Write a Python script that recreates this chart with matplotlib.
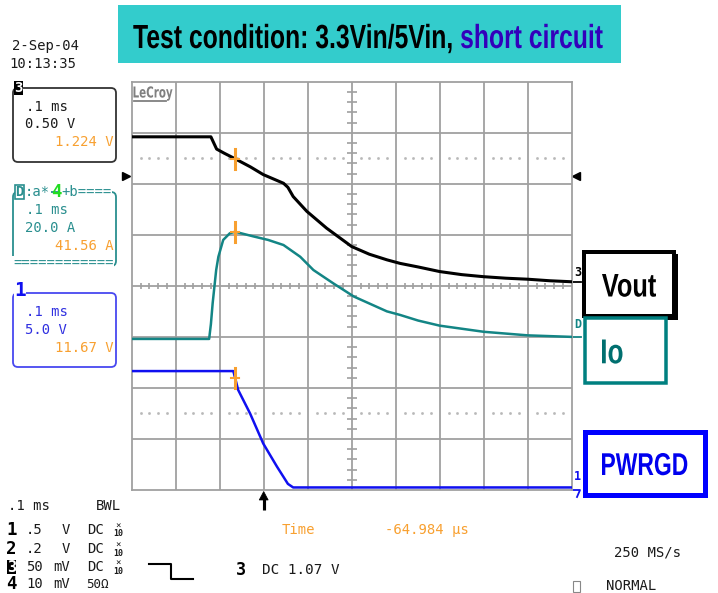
import numpy as np
import matplotlib
matplotlib.use('Agg')
import matplotlib.pyplot as plt
from matplotlib.patches import Rectangle, FancyBboxPatch, PathPatch, Polygon
from matplotlib.textpath import TextPath
from matplotlib.font_manager import FontProperties, findfont
from matplotlib.transforms import Affine2D

# ---------------- data (time in 0.1 ms divisions, amplitude in divisions) ----------------
vout_t = [0.0, 1.80, 1.93, 2.10, 2.35, 2.70, 2.99, 3.45, 3.55, 3.67, 3.98, 4.43, 5.00,
          5.40, 5.80, 6.10, 6.51, 7.00, 7.50, 7.99, 8.50, 9.00, 9.50, 10.0]
vout_y = [2.92, 2.92, 2.68, 2.60, 2.49, 2.33, 2.18, 2.01, 1.93, 1.75, 1.46, 1.13, 0.77,
          0.62, 0.51, 0.44, 0.37, 0.28, 0.22, 0.18, 0.15, 0.13, 0.10, 0.08]

io_t = [0.0, 1.76, 1.80, 1.84, 1.92, 1.97, 2.08, 2.23, 2.35, 2.76, 3.10, 3.45, 3.83,
        4.13, 4.58, 5.05, 5.80, 6.10, 6.51, 7.00, 8.00, 9.00, 10.0]
io_y = [-1.04, -1.04, -0.75, -0.34, 0.31, 0.57, 0.90, 1.03, 1.06, 0.97, 0.90, 0.80, 0.57,
        0.31, 0.05, -0.21, -0.50, -0.57, -0.68, -0.78, -0.90, -0.97, -1.00]

pg_t = [0.0, 2.31, 2.42, 2.69, 2.99, 3.30, 3.55, 3.67, 10.0]
pg_y = [-1.67, -1.67, -2.04, -2.50, -3.09, -3.54, -3.88, -3.95, -3.95]

cursor_t = 2.35
trigger_t = 3.0

title_black = 'Test condition: 3.3Vin/5Vin, '
title_blue = 'short circuit'
trace_labels = ['Vout', 'Io', 'PWRGD']

date_text = '2-Sep-04'
clock_text = '10:13:35'
panel_time = ['.1 ms', '.1 ms', '.1 ms']
panel_scale = ['0.50 V', '20.0 A', '5.0 V']
panel_value = ['1.224 V', '41.56 A', '11.67 V']

ch_ids = ['1', '2', '3', '4']
ch_scale = ['.5', '.2', '50', '10']
ch_unit = ['V', 'V', 'mV', 'mV']
ch_coupling = ['DC', 'DC', 'DC', '50Ω']
timebase = '.1 ms'
cursor_readout = '-64.984 μs'
trigger_readout = 'DC 1.07 V'
sample_rate = '250 MS/s'
trig_mode = 'NORMAL'

# ---------------- colours ----------------
C_BLACK = '#000000'
C_TEAL = '#138585'
C_TEAL_TXT = '#2A8F8F'
C_BLUE = '#1010F0'
C_BLUE_TXT = '#3030E0'
C_ORANGE = '#F8A030'
C_GRID = '#A0A0A0'
C_TXT = '#1a1a1a'
C_CYAN = '#33CCCC'
C_TITLE_BLUE = '#3300BB'

W, H = 718, 593
fig = plt.figure(figsize=(W / 100, H / 100), dpi=100)
ax0 = fig.add_axes([0, 0, 1, 1])
ax0.set_xlim(0, W)
ax0.set_ylim(H, 0)
ax0.axis('off')

PX = 0.72  # points per pixel

try:
    findfont(FontProperties(family='Liberation Sans Narrow'), fallback_to_default=False)
    fam = 'Liberation Sans Narrow'
except Exception:
    fam = 'Liberation Sans'
fp_bold = FontProperties(family=fam, weight='bold')


def fit_path(ax, s, x0, x1, cap_top, baseline, color, fp, ref=None):
    """Draw text as a path scaled to an ink box (pixel coords)."""
    full = ref if ref is not None else s
    cap = TextPath((0, 0), 'H', size=100, prop=fp).get_extents().height
    pf = TextPath((0, 0), full, size=100, prop=fp)
    ef = pf.get_extents()
    sx = (x1 - x0) / ef.width
    sy = (baseline - cap_top) / cap
    p = TextPath((0, 0), s, size=100, prop=fp)
    off = 0.0
    if ref is not None and not full.startswith(s):
        off = ef.x1 - p.get_extents().x1
    tr = Affine2D().translate(off - ef.x0, 0).scale(sx, -sy).translate(x0, baseline)
    ax.add_patch(PathPatch(tr.transform_path(p), fc=color, ec='none', lw=0, zorder=6))


def mono(x, y, s, color=C_TXT, size=10, ha='left', weight='normal', **kw):
    ax0.text(x, y, s, fontsize=size, family='DejaVu Sans Mono', color=color,
             ha=ha, va='center', weight=weight, **kw)


# ---------------- title ----------------
ax0.add_patch(Rectangle((118, 5), 503, 58, fc=C_CYAN, ec='none', zorder=1))
full_title = title_black + title_blue
fit_path(ax0, title_black, 133.3, 602.7, 25, 48, C_BLACK, fp_bold, ref=full_title)
fit_path(ax0, title_blue, 133.3, 602.7, 25, 48, C_TITLE_BLUE, fp_bold, ref=full_title)

# ---------------- scope axes ----------------
L, R, T, B = 131.7, 571.7, 81.7, 490.0
ax = fig.add_axes([L / W, 1 - B / H, (R - L) / W, (B - T) / H])
ax.set_xlim(0, 10)
ax.set_ylim(-4, 4)
ax.set_facecolor('none')
ax.set_xticks([])
ax.set_yticks([])
for sp in ax.spines.values():
    sp.set_color(C_GRID)
    sp.set_linewidth(1.3)
for xv in range(1, 10):
    ax.axvline(xv, color=C_GRID, lw=1.3, zorder=1)
for yv in range(-3, 4):
    ax.axhline(yv, color=C_GRID, lw=1.3, zorder=1)
minor_x = [v for v in np.arange(0.2, 10, 0.2) if abs(v - round(v)) > 1e-6]
minor_y = [v for v in np.arange(-3.8, 4, 0.2) if abs(v - round(v)) > 1e-6]
ax.vlines(minor_x, -0.065, 0.065, color=C_GRID, lw=1.2, zorder=1)
ax.hlines(minor_y, 4.885, 5.115, color=C_GRID, lw=1.2, zorder=1)
for yd in (2.5, -2.5):
    ax.plot(minor_x, [yd] * len(minor_x), ls='none', marker='s', ms=0.9,
            color='#B8B8B8', zorder=1)

# traces
ax.plot(vout_t, vout_y, color=C_BLACK, lw=2.2, zorder=4, solid_joinstyle='round')
ax.plot(io_t, io_y, color=C_TEAL, lw=1.8, zorder=4, solid_joinstyle='round')
ax.plot(pg_t, pg_y, color=C_BLUE, lw=1.8, zorder=4, solid_joinstyle='round')

# cursor markers
for tt, yy in ((vout_t, vout_y), (io_t, io_y), (pg_t, pg_y)):
    yc = np.interp(cursor_t, tt, yy)
    ax.plot([cursor_t, cursor_t], [yc - 0.2, yc + 0.2], color=C_ORANGE, lw=2.2, zorder=5)
    ax.plot([cursor_t - 0.09, cursor_t + 0.09], [yc, yc], color=C_ORANGE, lw=1.5, zorder=5)

# LeCroy logo
fp_logo = FontProperties(family='DejaVu Sans', weight='bold')
fit_path(ax0, 'LeCroy', 133.5, 172.5, 86.5, 97.5, '#808080', fp_logo)
ax0.plot([133.5, 166], [100.8, 100.8], color='#808080', lw=1.3, zorder=6)

# side markers
ax0.plot([125.5], [176], marker='>', color='k', ms=5.5, zorder=7)
ax0.plot([576], [176], marker='<', color='k', ms=5.5, zorder=7)

# trigger position arrow below the grid
xa = L + trigger_t * (R - L) / 10
ax0.plot([xa, xa], [497, 510], color='k', lw=2.6 * PX * 1.2, solid_capstyle='butt')
ax0.add_patch(Polygon([[xa - 4.5, 500], [xa + 4.5, 500], [xa, 491.5]], closed=True,
                      fc='k', ec='k', lw=0.5))

# right-edge channel tags
mono(578, 273, '3', color='k', size=8.5, ha='center', weight='bold')
ax0.plot([572, 581], [282, 282], color='k', lw=1.3)
mono(578, 325, 'D', color=C_TEAL, size=8.5, ha='center', weight='bold')
ax0.plot([572, 581], [336.5, 336.5], color=C_TEAL, lw=1.3)
mono(577, 477, '1', color=C_BLUE, size=8.5, ha='center', weight='bold')
ax0.plot([572, 580, 577], [490, 490, 497], color=C_BLUE, lw=1.3)

# ---------------- label boxes on the right ----------------
ax0.add_patch(Rectangle((586, 254), 92, 66, fc='k', ec='none', zorder=2))
ax0.add_patch(Rectangle((584, 252), 90, 64, fc='white', ec='k', lw=4 * PX, zorder=3))
fit_path(ax0, trace_labels[0], 602, 656, 274, 296.5, C_BLACK, fp_bold)
ax0.add_patch(Rectangle((584.5, 317.5), 81, 65, fc='white', ec='#008080', lw=3.5 * PX, zorder=4))
fit_path(ax0, trace_labels[1], 602, 622.5, 339.5, 363.3, '#006F6F', fp_bold)
ax0.add_patch(Rectangle((585, 432), 120, 63, fc='white', ec='#0000FF', lw=5 * PX, zorder=4))
fit_path(ax0, trace_labels[2], 602, 687.3, 453.3, 475, '#0000EE', fp_bold)

# ---------------- left panels ----------------
mono(12, 46, date_text)
mono(9, 64, clock_text)

# channel 3 panel
ax0.add_patch(FancyBboxPatch((13, 88), 103, 74, boxstyle='round,pad=0,rounding_size=5',
                             fc='none', ec='#333333', lw=1.3))
ax0.add_patch(Rectangle((14, 81), 9, 14, fc='k', ec='none', zorder=5))
mono(18.5, 88, '3', color='white', size=10, ha='center', weight='bold', zorder=6)
mono(26, 107, panel_time[0])
mono(25, 124, panel_scale[0])
mono(114, 142, panel_value[0], color=C_ORANGE, ha='right')

# math channel D panel
ax0.add_patch(FancyBboxPatch((13, 192), 103, 74, boxstyle='round,pad=0,rounding_size=5',
                             fc='none', ec=C_TEAL_TXT, lw=1.3))
ax0.add_patch(Rectangle((15, 185), 9, 14, fc='white', ec=C_TEAL_TXT, lw=1.2, zorder=5))
mono(19.5, 192, 'D', color=C_TEAL_TXT, size=10, ha='center', weight='bold', zorder=6)
mono(25, 192, ':a*', color=C_TEAL_TXT, bbox=dict(fc='white', ec='none', pad=0.5))
mono(56.5, 192, '4', color='#22DD22', size=12.5, weight='bold', ha='center', zorder=7)
mono(61, 192, '+b====', color=C_TEAL_TXT, bbox=dict(fc='white', ec='none', pad=0.5))
mono(26, 210, panel_time[1], color=C_TEAL_TXT)
mono(25, 228, panel_scale[1], color=C_TEAL_TXT)
mono(114, 246, panel_value[1], color=C_ORANGE, ha='right')
mono(13, 264, '============', color=C_TEAL_TXT, bbox=dict(fc='white', ec='none', pad=0.5))

# channel 1 panel
ax0.add_patch(FancyBboxPatch((13, 293), 103, 74, boxstyle='round,pad=0,rounding_size=5',
                             fc='none', ec='#4848F0', lw=1.3))
mono(20, 291, '1', color=C_BLUE, size=14, ha='center', weight='bold',
     bbox=dict(fc='white', ec='none', pad=0.3))
mono(26, 312, panel_time[2], color=C_BLUE_TXT)
mono(25, 330, panel_scale[2], color=C_BLUE_TXT)
mono(114, 348, panel_value[2], color=C_ORANGE, ha='right')

# ---------------- bottom status area ----------------
mono(8, 506, timebase)
mono(96, 506, 'BWL')
row_y = [530, 549, 567, 584]
for i, cid in enumerate(ch_ids):
    y = row_y[i]
    if cid == '3':
        ax0.add_patch(Rectangle((7, y - 7), 9, 14, fc='k', ec='none'))
        mono(11.5, y, cid, color='white', size=11, ha='center', weight='bold')
    else:
        mono(11.5, y, cid, color='k', size=12.5, ha='center', weight='bold')
    mono(26, y, ch_scale[i])
    if ch_unit[i] == 'V':
        mono(62, y, ch_unit[i])
    else:
        mono(53, y, ch_unit[i])
    if ch_coupling[i] == 'DC':
        mono(87, y, ch_coupling[i])
        mono(118, y - 4, '×', size=6.5, ha='center')
        mono(118, y + 4, '10', size=6, ha='center', weight='bold')
    else:
        mono(86, y, ch_coupling[i], size=9)

ax0.plot([149, 171, 171, 193], [564, 564, 579, 579], color='k', lw=1.5)
mono(240.5, 570, '3', color='k', size=12, ha='center', weight='bold')
mono(262, 570, trigger_readout, size=10.3)
mono(282, 530, 'Time', color=C_ORANGE)
mono(385, 530, cursor_readout, color=C_ORANGE)
mono(614, 552, sample_rate)
ax0.add_patch(Rectangle((573, 581), 7, 11, fc='none', ec='#888888', lw=0.8))
mono(606, 586, trig_mode)

fig.savefig('out.png', dpi=100)
